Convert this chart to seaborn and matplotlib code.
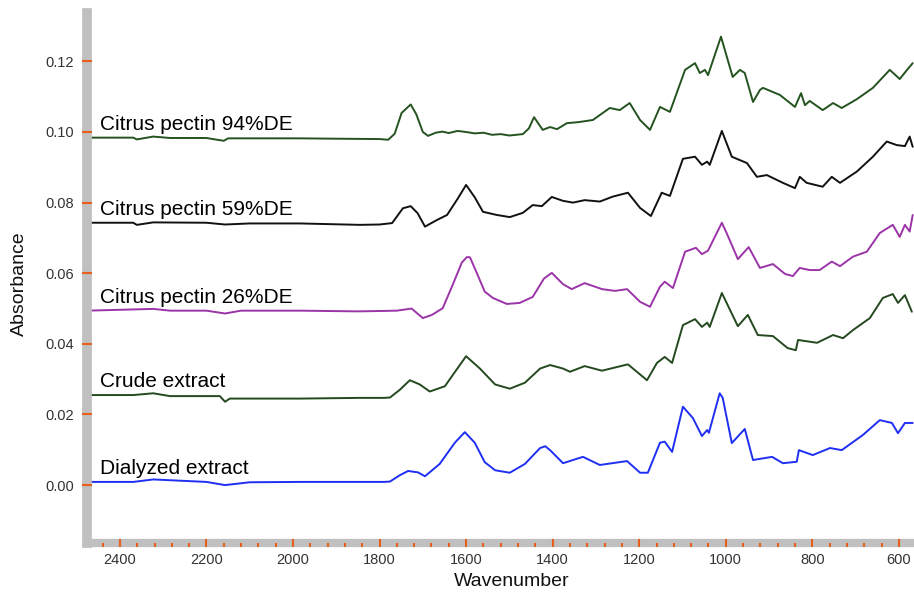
import matplotlib
matplotlib.use("Agg")
import matplotlib.pyplot as plt
from matplotlib.ticker import MultipleLocator, FormatStrFormatter
import seaborn as sns

# ---- data (wavenumber, absorbance) ----
names = ["Citrus pectin 94%DE", "Citrus pectin 59%DE", "Citrus pectin 26%DE",
         "Crude extract", "Dialyzed extract"]

wn_94 = [2475, 2440, 2369, 2361, 2323, 2284, 2200, 2160, 2150, 2080, 1984, 1900, 1800, 1780,
         1765, 1749, 1728, 1715, 1700, 1688, 1670, 1655, 1640, 1620, 1600, 1580, 1560, 1540,
         1520, 1500, 1469, 1455, 1443, 1423, 1406, 1390, 1367, 1340, 1307, 1268, 1245, 1222,
         1198, 1175, 1152, 1129, 1094, 1071, 1060, 1048, 1041, 1011, 984, 967, 956, 937, 921,
         914, 875, 840, 826, 817, 806, 776, 752, 732, 697, 660, 621, 598, 581, 568]
abs_94 = [0.0984, 0.0984, 0.0984, 0.0979, 0.0987, 0.0983, 0.0983, 0.0975, 0.0982, 0.0982,
          0.0982, 0.0981, 0.0980, 0.0978, 0.0995, 0.1054, 0.1078, 0.1050, 0.1000, 0.0989,
          0.0998, 0.1001, 0.0997, 0.1003, 0.1000, 0.0996, 0.0998, 0.0992, 0.0994, 0.0990,
          0.0994, 0.1010, 0.1042, 0.1006, 0.1014, 0.1008, 0.1025, 0.1028, 0.1034, 0.1068,
          0.1062, 0.1082, 0.1034, 0.1006, 0.1071, 0.1057, 0.1176, 0.1195, 0.1167, 0.1176,
          0.1161, 0.1270, 0.1156, 0.1176, 0.1167, 0.1085, 0.1119, 0.1125, 0.1105, 0.1071,
          0.1110, 0.1076, 0.1088, 0.1062, 0.1082, 0.1068, 0.1093, 0.1125, 0.1176, 0.1150,
          0.1176, 0.1195]

wn_59 = [2475, 2369, 2361, 2323, 2200, 2157, 2100, 1984, 1845, 1800, 1771, 1746, 1728, 1712,
         1695, 1667, 1644, 1620, 1600, 1580, 1561, 1529, 1499, 1469, 1446, 1425, 1402, 1376,
         1353, 1326, 1291, 1261, 1226, 1198, 1173, 1148, 1129, 1099, 1071, 1055, 1043, 1037,
         1009, 986, 951, 928, 905, 868, 840, 829, 813, 776, 755, 736, 697, 660, 628, 605, 586,
         575, 568]
abs_59 = [0.0743, 0.0743, 0.0737, 0.0744, 0.0743, 0.0738, 0.0741, 0.0741, 0.0737, 0.0738,
          0.0742, 0.0784, 0.0790, 0.0770, 0.0732, 0.0751, 0.0765, 0.0810, 0.0850, 0.0815,
          0.0774, 0.0765, 0.0759, 0.0771, 0.0793, 0.0790, 0.0816, 0.0805, 0.0800, 0.0807,
          0.0803, 0.0817, 0.0828, 0.0785, 0.0762, 0.0828, 0.0819, 0.0924, 0.0930, 0.0907,
          0.0916, 0.0907, 0.1003, 0.0930, 0.0912, 0.0873, 0.0878, 0.0856, 0.0841, 0.0873,
          0.0856, 0.0845, 0.0873, 0.0856, 0.0888, 0.0930, 0.0973, 0.0963, 0.0960, 0.0987,
          0.0958]

wn_26 = [2475, 2323, 2284, 2200, 2157, 2120, 1984, 1850, 1799, 1760, 1726, 1700, 1679, 1654,
         1630, 1610, 1598, 1591, 1575, 1557, 1538, 1506, 1476, 1446, 1420, 1402, 1376, 1356,
         1326, 1286, 1256, 1228, 1198, 1175, 1152, 1141, 1122, 1094, 1069, 1055, 1041, 1009,
         998, 972, 947, 921, 891, 863, 845, 829, 806, 783, 755, 736, 706, 674, 644, 614, 598,
         586, 575, 568]
abs_26 = [0.0494, 0.0499, 0.0494, 0.0494, 0.0486, 0.0494, 0.0494, 0.0492, 0.0493, 0.0494,
          0.0500, 0.0473, 0.0482, 0.0501, 0.0570, 0.0630, 0.0646, 0.0645, 0.0600, 0.0548,
          0.0530, 0.0513, 0.0516, 0.0533, 0.0585, 0.0601, 0.0569, 0.0555, 0.0572, 0.0555,
          0.0550, 0.0555, 0.0519, 0.0505, 0.0562, 0.0576, 0.0558, 0.0661, 0.0672, 0.0654,
          0.0664, 0.0743, 0.0714, 0.0640, 0.0674, 0.0615, 0.0626, 0.0598, 0.0592, 0.0615,
          0.0609, 0.0609, 0.0633, 0.0620, 0.0647, 0.0661, 0.0714, 0.0737, 0.0703, 0.0737,
          0.0718, 0.0765]

wn_crude = [2475, 2369, 2323, 2284, 2169, 2157, 2146, 1984, 1845, 1790, 1776, 1753, 1730,
            1707, 1684, 1649, 1626, 1600, 1568, 1533, 1499, 1464, 1429, 1406, 1376, 1360,
            1326, 1286, 1226, 1182, 1159, 1141, 1124, 1099, 1071, 1055, 1043, 1037, 1009,
            972, 949, 926, 891, 857, 838, 833, 789, 752, 729, 706, 667, 637, 614, 602, 586, 570]
abs_crude = [0.0255, 0.0255, 0.0260, 0.0252, 0.0252, 0.0236, 0.0245, 0.0245, 0.0247, 0.0247,
             0.0248, 0.0270, 0.0297, 0.0285, 0.0265, 0.0280, 0.0320, 0.0365, 0.0330, 0.0285,
             0.0273, 0.0290, 0.0330, 0.0340, 0.0330, 0.0321, 0.0337, 0.0324, 0.0342, 0.0297,
             0.0346, 0.0363, 0.0346, 0.0453, 0.0470, 0.0448, 0.0460, 0.0448, 0.0544, 0.0450,
             0.0482, 0.0425, 0.0422, 0.0388, 0.0382, 0.0411, 0.0403, 0.0425, 0.0416, 0.0439,
             0.0473, 0.0530, 0.0541, 0.0516, 0.0538, 0.0491]

wn_dial = [2475, 2369, 2323, 2200, 2157, 2100, 1984, 1845, 1790, 1776, 1753, 1734, 1711, 1695,
           1661, 1626, 1603, 1580, 1557, 1533, 1499, 1464, 1429, 1417, 1406, 1376, 1330, 1291,
           1228, 1198, 1180, 1152, 1141, 1124, 1099, 1076, 1055, 1043, 1039, 1014, 1007, 986,
           956, 937, 893, 868, 836, 831, 799, 759, 732, 683, 644, 616, 602, 586, 568]
abs_dial = [0.0009, 0.0009, 0.0016, 0.0009, 0.0000, 0.0008, 0.0009, 0.0009, 0.0009, 0.0010,
            0.0028, 0.0040, 0.0036, 0.0025, 0.0060, 0.0120, 0.0150, 0.0120, 0.0065, 0.0042,
            0.0035, 0.0060, 0.0105, 0.0110, 0.0099, 0.0062, 0.0080, 0.0057, 0.0068, 0.0035,
            0.0035, 0.0120, 0.0123, 0.0094, 0.0222, 0.0190, 0.0139, 0.0156, 0.0148, 0.0260,
            0.0247, 0.0119, 0.0159, 0.0071, 0.0080, 0.0062, 0.0066, 0.0099, 0.0085, 0.0105,
            0.0099, 0.0142, 0.0184, 0.0176, 0.0147, 0.0176, 0.0176]

x_ticks_major = 200
x_ticks_minor = 40
y_ticks_major = 0.02

colors = ["#24531f", "#111111", "#9b34a8", "#24491f", "#1f2ff2"]
spectra = [(wn_94, abs_94), (wn_59, abs_59), (wn_26, abs_26),
           (wn_crude, abs_crude), (wn_dial, abs_dial)]

# ---- plot ----
sns.set_theme(style="white")
plt.rcParams["font.family"] = ["Liberation Sans", "DejaVu Sans"]

fig = plt.figure(figsize=(9.14, 5.97), dpi=100)
ax = fig.add_axes([87 / 914, 54 / 597, 827 / 914, 530 / 597])

for (wn, ab), col, name in zip(spectra, colors, names):
    sns.lineplot(x=wn, y=ab, ax=ax, color=col, lw=1.4, estimator=None, sort=False)
    # label sits just above the flat baseline on the left
    ax.text(2447, ab[0] + 0.0037, name, fontsize=15, color="black",
            ha="left", va="center")

ax.set_xlim(2476, 565)
ax.set_ylim(-0.0164, 0.1337)

ax.xaxis.set_major_locator(MultipleLocator(x_ticks_major))
ax.xaxis.set_minor_locator(MultipleLocator(x_ticks_minor))
ax.yaxis.set_major_locator(MultipleLocator(y_ticks_major))
ax.yaxis.set_major_formatter(FormatStrFormatter("%.2f"))

# gray frame on left and bottom: above the lines, under the orange ticks
for side in ["top", "right"]:
    ax.spines[side].set_visible(False)
for side, lw in [("left", 7), ("bottom", 6)]:
    ax.spines[side].set_color("#c0c0c0")
    ax.spines[side].set_linewidth(lw)
    ax.spines[side].set_zorder(2.2)
ax.xaxis.set_zorder(3)
ax.yaxis.set_zorder(3)

tick_col = "#e8601c"
ax.tick_params(axis="y", which="major", left=True, direction="inout", length=7, width=1.5,
               color=tick_col, labelcolor="#333333", labelsize=10.5, pad=6)
ax.tick_params(axis="x", which="major", bottom=True, direction="inout", length=6, width=1.5,
               color=tick_col, labelcolor="#333333", labelsize=10.5, pad=4)
ax.tick_params(axis="x", which="minor", bottom=True, direction="out", length=3, width=1.5,
               color=tick_col)

ax.set_xlabel("Wavenumber", fontsize=14, color="#111111")
ax.set_ylabel("Absorbance", fontsize=14, color="#111111")
ax.xaxis.set_label_coords(0.513, -0.056)
ax.yaxis.set_label_coords(-0.072, 0.489)

fig.savefig("out.png", dpi=100)
